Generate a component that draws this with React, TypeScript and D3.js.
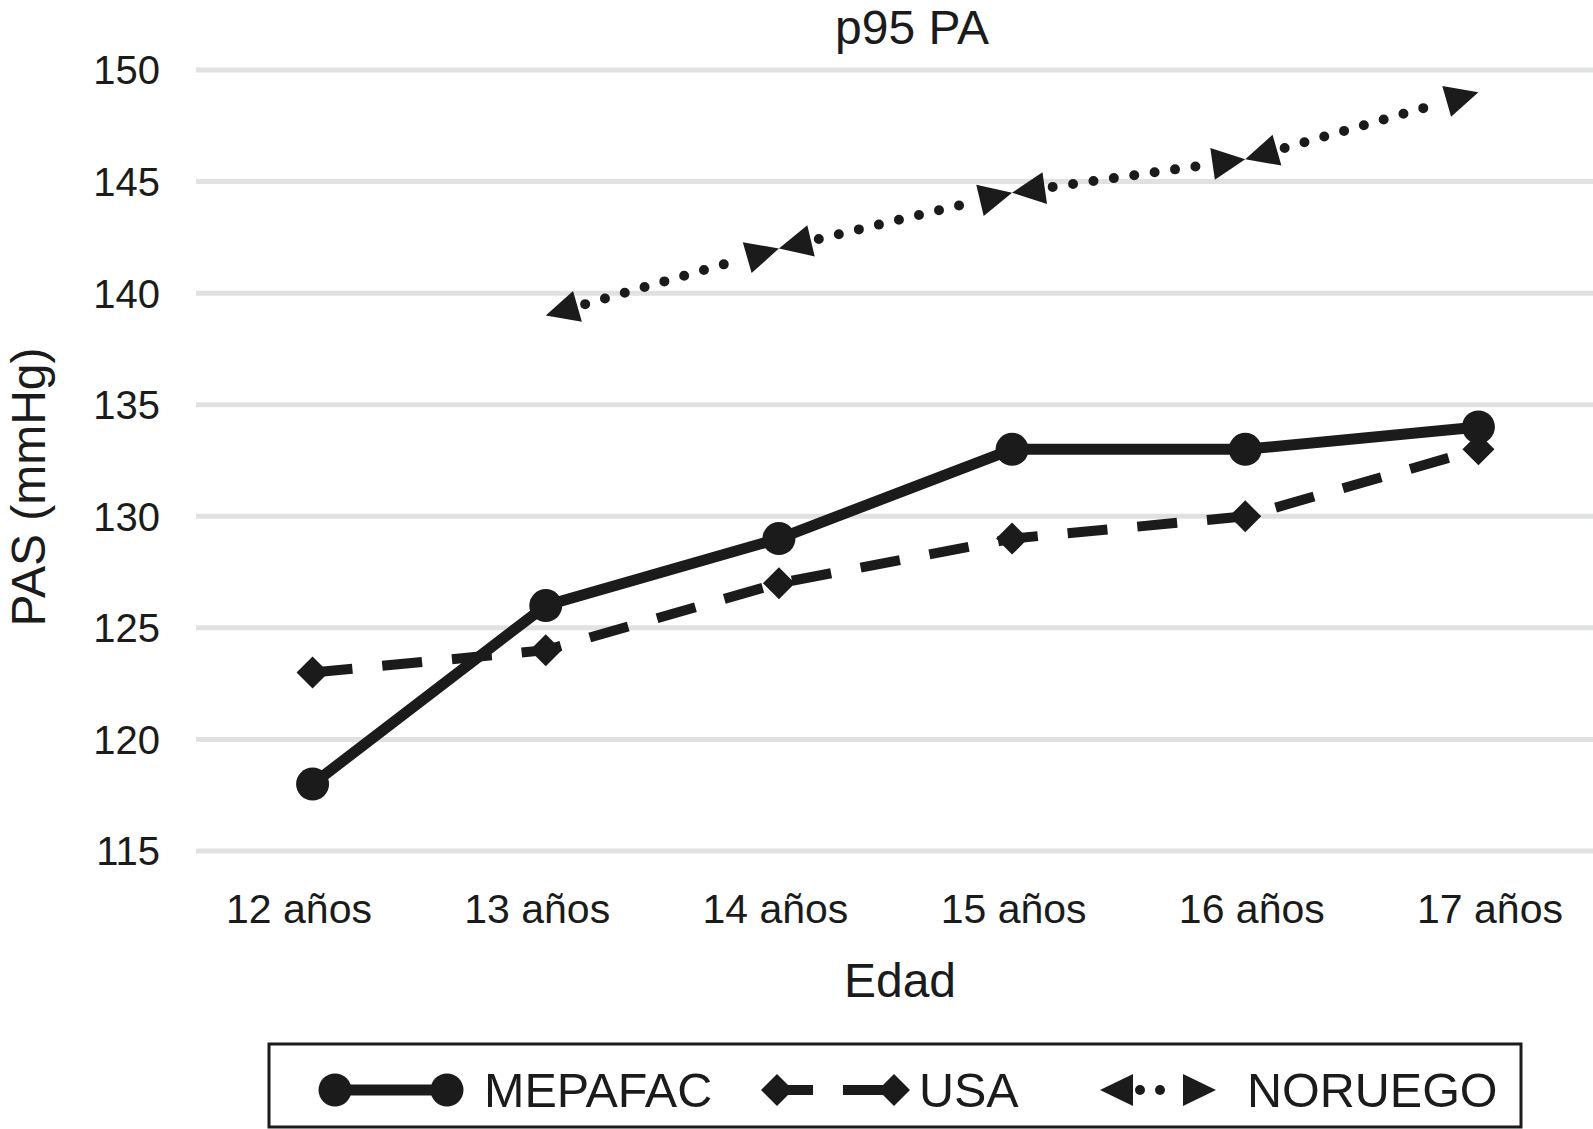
import React from "react";
import * as d3 from "d3";

const categories = ["12 años", "13 años", "14 años", "15 años", "16 años", "17 años"];
const mepafac = [118, 126, 129, 133, 133, 134];
const usa = [123, 124, 127, 129, 130, 133];
const noruegoCats = ["13 años", "14 años", "15 años", "16 años", "17 años"];
const noruego = [139, 142, 144.5, 146, 149];
const yTicks = [115, 120, 125, 130, 135, 140, 145, 150];
const seriesNames = ["MEPAFAC", "USA", "NORUEGO"];

const W = 1593;
const H = 1129;
const FONT = "'Liberation Sans', Arial, Helvetica, sans-serif";
const INK = "#1b1b1b";

const x = d3.scaleBand<string>().domain(categories).range([196, 1595]).paddingInner(0).paddingOuter(0);
const xLabel = d3.scalePoint<string>().domain(categories).range([299, 1490]);
const y = d3.scaleLinear().domain([115, 150]).range([851, 70]);
const cx = (c: string) => (x(c) as number) + x.bandwidth() / 2;

const line = d3
  .line<[number, number]>()
  .x((d) => d[0])
  .y((d) => d[1]);

const diamond = (px: number, py: number, r: number) =>
  `M${px},${py - r}L${px + r},${py}L${px},${py + r}L${px - r},${py}Z`;

const arrowHead = (tip: [number, number], dir: [number, number], L: number, Wd: number) => {
  const bx = tip[0] + dir[0] * L;
  const by = tip[1] + dir[1] * L;
  const nx = -dir[1];
  const ny = dir[0];
  return `M${tip[0]},${tip[1]}L${bx + nx * Wd},${by + ny * Wd}L${bx - nx * Wd},${by - ny * Wd}Z`;
};

export default function App() {
  const mPts: [number, number][] = categories.map((c, i) => [cx(c), y(mepafac[i])]);
  const uPts: [number, number][] = categories.map((c, i) => [cx(c), y(usa[i])]);
  const nPts: [number, number][] = noruegoCats.map((c, i) => [cx(c), y(noruego[i])]);

  const AL = 33;
  const AW = 16;
  const arrows: string[] = [];
  const dotSegs: string[] = [];
  for (let i = 0; i < nPts.length - 1; i++) {
    const a = nPts[i];
    const b = nPts[i + 1];
    const dx = b[0] - a[0];
    const dy = b[1] - a[1];
    const len = Math.hypot(dx, dy);
    const u: [number, number] = [dx / len, dy / len];
    arrows.push(arrowHead(a, u, AL, AW));
    arrows.push(arrowHead(b, [-u[0], -u[1]], AL, AW));
    const s: [number, number] = [a[0] + u[0] * (AL + 8), a[1] + u[1] * (AL + 8)];
    const e: [number, number] = [b[0] - u[0] * (AL + 4), b[1] - u[1] * (AL + 4)];
    dotSegs.push(line([s, e]) as string);
  }

  const legY = 1090;
  const legText = 1107;

  return (
    <svg
      width={W}
      height={H}
      viewBox={`0 0 ${W} ${H}`}
      style={{ position: "absolute", left: 0, top: 0, background: "#fff" }}
      fontFamily={FONT}
    >
      <rect x={0} y={0} width={W} height={H} fill="#fff" />
      <text x={912} y={44} textAnchor="middle" fontSize={48} fill={INK}>
        p95 PA
      </text>

      {yTicks.map((t) => (
        <line key={t} x1={196} x2={W} y1={y(t)} y2={y(t)} stroke="#e0e2e2" strokeWidth={5} />
      ))}
      {yTicks.map((t) => (
        <text key={"l" + t} x={160} y={y(t)} dy="0.36em" textAnchor="end" fontSize={40} fill={INK}>
          {t}
        </text>
      ))}
      {categories.map((c) => (
        <text key={c} x={xLabel(c)} y={923} textAnchor="middle" fontSize={41} fill={INK}>
          {c}
        </text>
      ))}
      <text x={900} y={997} textAnchor="middle" fontSize={48} fill={INK}>
        Edad
      </text>
      <text transform={`translate(45, 487) rotate(-90)`} textAnchor="middle" fontSize={48} fill={INK}>
        PAS (mmHg)
      </text>

      {/* USA dashed */}
      <path d={line(uPts) as string} fill="none" stroke={INK} strokeWidth={10} strokeDasharray="40 30" />
      {uPts.map((p, i) => (
        <path key={"u" + i} d={diamond(p[0], p[1], 16)} fill={INK} />
      ))}

      {/* MEPAFAC solid */}
      <path d={line(mPts) as string} fill="none" stroke={INK} strokeWidth={11} strokeLinejoin="round" />
      {mPts.map((p, i) => (
        <circle key={"m" + i} cx={p[0]} cy={p[1]} r={16.5} fill={INK} />
      ))}

      {/* NORUEGO dotted with arrows */}
      {dotSegs.map((d, i) => (
        <path
          key={"d" + i}
          d={d}
          fill="none"
          stroke={INK}
          strokeWidth={10}
          strokeLinecap="round"
          strokeDasharray="0 20.6"
        />
      ))}
      {arrows.map((d, i) => (
        <path key={"a" + i} d={d} fill={INK} />
      ))}

      {/* legend */}
      <rect x={269} y={1044} width={1252} height={83} fill="none" stroke={INK} strokeWidth={3} />
      <line x1={335} x2={447} y1={legY} y2={legY} stroke={INK} strokeWidth={11} />
      <circle cx={335} cy={legY} r={16.5} fill={INK} />
      <circle cx={447} cy={legY} r={16.5} fill={INK} />
      <text x={484} y={legText} fontSize={48.5} fill={INK}>
        {seriesNames[0]}
      </text>

      <line x1={777} x2={894} y1={legY} y2={legY} stroke={INK} strokeWidth={10} strokeDasharray="36 30 60" />
      <path d={diamond(777, legY, 16)} fill={INK} />
      <path d={diamond(894, legY, 16)} fill={INK} />
      <text x={919} y={legText} fontSize={48.5} fill={INK}>
        {seriesNames[1]}
      </text>

      <circle cx={1140} cy={legY} r={5} fill={INK} />
      <circle cx={1160} cy={legY} r={5} fill={INK} />
      <path d={arrowHead([1100, legY], [1, 0], 33, 16)} fill={INK} />
      <path d={arrowHead([1216, legY], [-1, 0], 33, 16)} fill={INK} />
      <text x={1247} y={legText} fontSize={48.5} fill={INK}>
        {seriesNames[2]}
      </text>
    </svg>
  );
}
